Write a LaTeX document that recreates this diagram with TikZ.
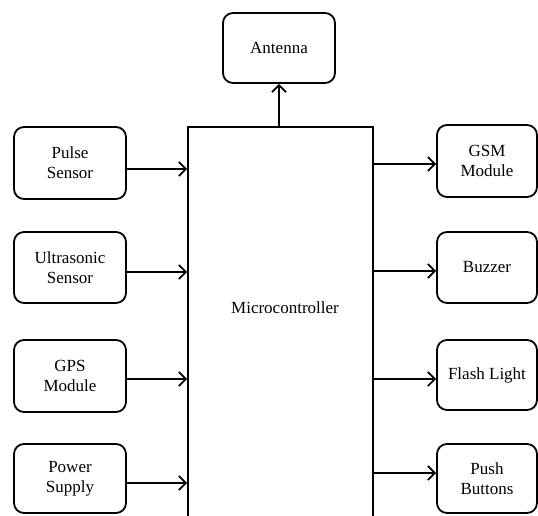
\documentclass[tikz,border=0pt]{standalone}
\usepackage{fontspec}
\setmainfont{Liberation Serif}
\usetikzlibrary{arrows.meta}
\begin{document}
\begin{tikzpicture}[x=1pt,y=-1pt,
  blk/.style={draw,line width=1.8pt,rounded corners=10pt,align=center,
    font=\fontsize{17}{20}\selectfont,inner sep=0pt},
  lbox/.style={blk,minimum width=112pt,minimum height=72pt},
  rbox/.style={blk,minimum width=100pt,minimum height=72pt},
  mcbox/.style={draw,line width=1.8pt,inner sep=0pt,font=\fontsize{17}{20}\selectfont},
  arr/.style={line width=1.8pt,-{Straight Barb[length=7pt,width=14pt,line width=1.8pt]}}]
\useasboundingbox (0,0) rectangle (538,515);
\clip (0,0) rectangle (538,515);

\node[mcbox,minimum width=185pt,minimum height=433pt,
  label={[font=\fontsize{17}{20}\selectfont,xshift=4.5pt,yshift=35.5pt]center:Microcontroller}] (mc) at (280.5,343.5) {};

\node[blk,minimum width=112pt,minimum height=70pt] (ant) at (279,48) {Antenna};

\node[lbox] (pulse) at (70,163) {Pulse\\Sensor};
\node[lbox,minimum height=71pt] (ultra) at (70,267.5) {Ultrasonic\\Sensor};
\node[lbox] (gps) at (70,376) {GPS\\Module};
\node[lbox,minimum height=69pt] (power) at (70,478.5) {Power\\Supply};

\node[rbox] (gsm) at (487,161) {GSM\\Module};
\node[rbox,minimum height=71pt] (buzz) at (487,267.5) {Buzzer};
\node[rbox,minimum height=70pt] (flash) at (487,375) {Flash Light};
\node[rbox,minimum height=69pt] (push) at (487,478.5) {Push\\Buttons};

\draw[arr] (mc.north -| ant.south) -- (ant.south);

\draw[arr] ([yshift=-6pt]pulse.east) -- ([yshift=-6pt]pulse.east -| mc.west);
\draw[arr] ([yshift=-4.5pt]ultra.east) -- ([yshift=-4.5pt]ultra.east -| mc.west);
\draw[arr] ([yshift=-3pt]gps.east) -- ([yshift=-3pt]gps.east -| mc.west);
\draw[arr] ([yshift=-4.5pt]power.east) -- ([yshift=-4.5pt]power.east -| mc.west);

\draw[arr] ([yshift=-3pt]gsm.west -| mc.east) -- ([yshift=-3pt]gsm.west);
\draw[arr] ([yshift=-3.5pt]buzz.west -| mc.east) -- ([yshift=-3.5pt]buzz.west);
\draw[arr] ([yshift=-4pt]flash.west -| mc.east) -- ([yshift=-4pt]flash.west);
\draw[arr] ([yshift=5.5pt]push.west -| mc.east) -- ([yshift=5.5pt]push.west);
\end{tikzpicture}
\end{document}
